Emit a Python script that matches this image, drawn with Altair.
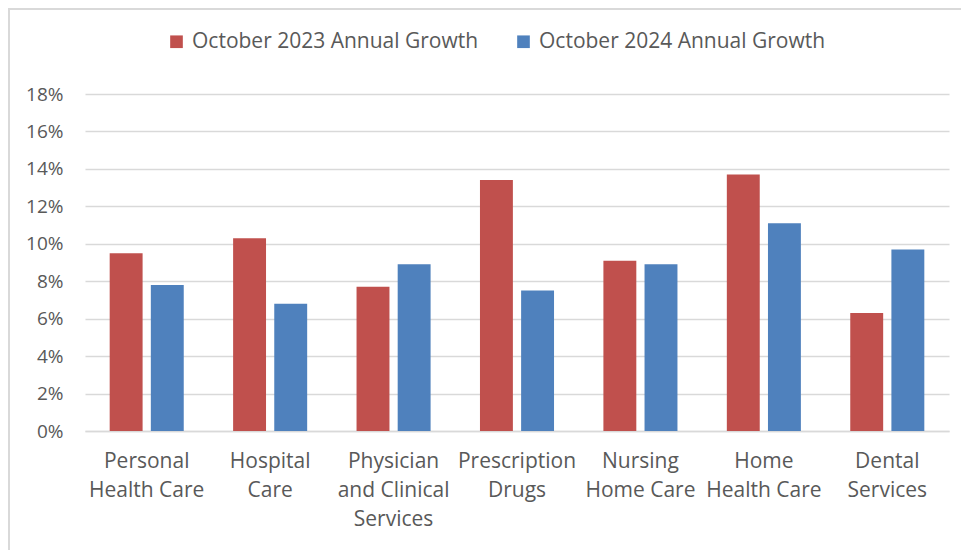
import altair as alt
import pandas as pd

categories = [
    "Personal\nHealth Care",
    "Hospital\nCare",
    "Physician\nand Clinical\nServices",
    "Prescription\nDrugs",
    "Nursing\nHome Care",
    "Home\nHealth Care",
    "Dental\nServices",
]
series_names = ["October 2023 Annual Growth", "October 2024 Annual Growth"]
growth_2023 = [9.5, 10.3, 7.7, 13.4, 9.1, 13.7, 6.3]
growth_2024 = [7.8, 6.8, 8.9, 7.5, 8.9, 11.1, 9.7]
y_ticks = [0, 2, 4, 6, 8, 10, 12, 14, 16, 18]
colors = ["#C0504D", "#4F81BD"]

rows = []
for c, a, b in zip(categories, growth_2023, growth_2024):
    rows.append({"category": c, "series": series_names[0], "value": a})
    rows.append({"category": c, "series": series_names[1], "value": b})
df = pd.DataFrame(rows)

FONT = "Open Sans"
TXT = "#595959"
GRID = "#D9D9D9"
W, H = 864, 337
PL, PT, PR, PB = 77, 86, 12, 119

bars = alt.Chart(df).mark_bar().encode(
    x=alt.X(
        "category:N",
        sort=categories,
        scale=alt.Scale(paddingInner=0.4, paddingOuter=0.2),
        axis=alt.Axis(
            title=None,
            labelAngle=0,
            labelExpr="split(datum.label, '\\n')",
            labelFontSize=21,
            labelLineHeight=29,
            labelColor=TXT,
            labelFont=FONT,
            labelPadding=19,
            labelBaseline="top",
            labelLimit=0,
            ticks=False,
            domainColor=GRID,
            domainWidth=1.5,
        ),
    ),
    xOffset=alt.XOffset("series:N", sort=series_names,
                        scale=alt.Scale(paddingInner=0.2, paddingOuter=0)),
    y=alt.Y(
        "value:Q",
        scale=alt.Scale(domain=[0, 18], nice=False),
        axis=alt.Axis(
            title=None,
            values=y_ticks,
            labelExpr="datum.value + '%'",
            labelFontSize=19,
            labelColor=TXT,
            labelFont=FONT,
            labelPadding=22,
            ticks=False,
            domain=False,
            gridColor=GRID,
            gridWidth=1.5,
        ),
    ),
    color=alt.Color(
        "series:N",
        sort=series_names,
        scale=alt.Scale(domain=series_names, range=colors),
        legend=alt.Legend(
            title=None,
            orient="none",
            direction="horizontal",
            legendX=81,
            legendY=-63,
            symbolType="square",
            symbolSize=160,
            symbolStrokeWidth=0,
            labelFontSize=21,
            labelFont=FONT,
            labelColor=TXT,
            labelOffset=5,
            labelLimit=0,
            columnPadding=34,
        ),
    ),
)

frame_df = pd.DataFrame({"k": [0]})
top_border = alt.Chart(frame_df).mark_rule(color=GRID, strokeWidth=2).encode(
    x=alt.value(-PL), x2=alt.value(W + PR), y=alt.value(-PT + 1)
)
left_border = alt.Chart(frame_df).mark_rule(color=GRID, strokeWidth=2).encode(
    x=alt.value(-PL + 1), y=alt.value(-PT), y2=alt.value(H + PB)
)

chart = alt.layer(bars, top_border, left_border).properties(
    width=W,
    height=H,
    padding={"left": PL, "top": PT, "right": PR, "bottom": PB},
    autosize=alt.AutoSizeParams(type="none"),
    background="white",
).configure_view(stroke=None)

chart.save("out.html", embed_options={"renderer": "svg", "actions": False})
